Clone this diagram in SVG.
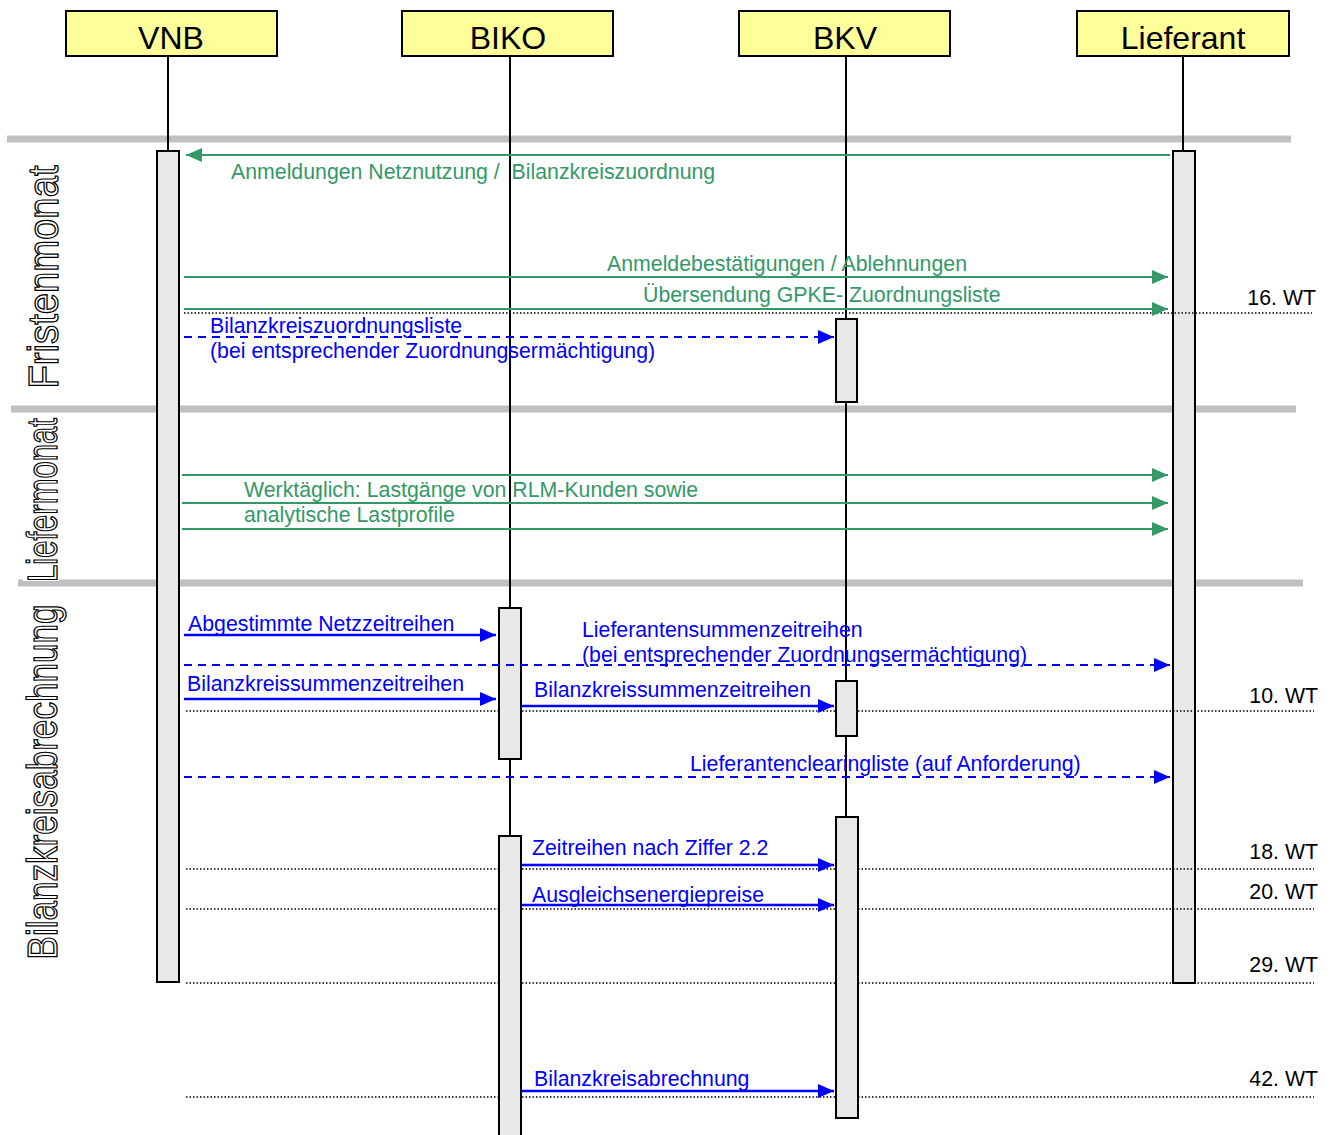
<svg xmlns="http://www.w3.org/2000/svg" width="1333" height="1135" viewBox="0 0 1333 1135">
<style>
.hdr{fill:#FFFF99;stroke:#000;stroke-width:2}
.hdrt{font-family:"Liberation Sans",Arial,sans-serif;font-size:32px;text-anchor:middle;fill:#000}
.life{stroke:#000;stroke-width:2;fill:none}
.act{fill:#E8E8E8;stroke:#000;stroke-width:2}
.sep{stroke:#C0C0C0;stroke-width:7}
.g{stroke:#339966;stroke-width:2;fill:none}
.b{stroke:#0000FF;stroke-width:2.5;fill:none}
.bd{stroke:#0000FF;stroke-width:2;fill:none;stroke-dasharray:8 6}
.dot{stroke:#000;stroke-width:1.4;stroke-dasharray:1.5 2;fill:none}
.lbl{font-family:"Liberation Sans",Arial,sans-serif;font-size:21.3px;white-space:pre}
.gt{fill:#339966}
.bt{fill:#0000FF}
.wt{font-family:"Liberation Sans",Arial,sans-serif;font-size:21.3px;fill:#000;text-anchor:end}
.vt{font-family:"Liberation Sans",Arial,sans-serif;font-size:42px;fill:#fff;stroke:#000;stroke-width:1.3;text-anchor:middle}
</style>
<defs>
<marker id="ag" markerUnits="userSpaceOnUse" markerWidth="16" markerHeight="14" refX="16" refY="7" orient="auto"><path d="M0,0 L16,7 L0,14 z" fill="#339966"/></marker>
<marker id="ab" markerUnits="userSpaceOnUse" markerWidth="16" markerHeight="14" refX="16" refY="7" orient="auto"><path d="M0,0 L16,7 L0,14 z" fill="#0000FF"/></marker>
</defs>
<rect width="1333" height="1135" fill="#fff"/>

<g id="separators">
<line class="sep" x1="7" y1="139" x2="1291" y2="139"/>
<line class="sep" x1="11" y1="409" x2="1296" y2="409"/>
<line class="sep" x1="18" y1="583" x2="1303" y2="583"/>
</g>

<g id="phases">
<text class="vt" transform="translate(58,277) rotate(-90)" textLength="223" lengthAdjust="spacingAndGlyphs">Fristenmonat</text>
<rect x="23" y="413" width="36" height="168" fill="#fff"/>
<text class="vt" transform="translate(57,500) rotate(-90)" textLength="164" lengthAdjust="spacingAndGlyphs">Liefermonat</text>
<text class="vt" transform="translate(57,782) rotate(-90)" textLength="355" lengthAdjust="spacingAndGlyphs">Bilanzkreisabrechnung</text>
</g>

<g id="lifelines">
<line class="life" x1="168" y1="56" x2="168" y2="151"/>
<line class="life" x1="510" y1="56" x2="510" y2="1135"/>
<line class="life" x1="846" y1="56" x2="846" y2="1118"/>
<line class="life" x1="1183" y1="56" x2="1183" y2="151"/>
</g>

<g id="node-VNB">
<rect class="hdr" x="66" y="11" width="211" height="45"/>
<text class="hdrt" x="171" y="49">VNB</text>
<rect class="act" x="157" y="151" width="22" height="831"/>
</g>
<g id="node-Lieferant">
<rect class="hdr" x="1077" y="11" width="212" height="45"/>
<text class="hdrt" x="1183" y="49">Lieferant</text>
<rect class="act" x="1173" y="151" width="22" height="832"/>
</g>

<g id="timelines">
<line class="dot" x1="184" y1="313" x2="1312" y2="313"/>
<line class="dot" x1="186" y1="711" x2="1314" y2="711"/>
<line class="dot" x1="186" y1="869" x2="1314" y2="869"/>
<line class="dot" x1="186" y1="909" x2="1314" y2="909"/>
<line class="dot" x1="186" y1="983" x2="1314" y2="983"/>
<line class="dot" x1="186" y1="1097" x2="1314" y2="1097"/>
<text class="wt" x="1316" y="305">16. WT</text>
<text class="wt" x="1318" y="703">10. WT</text>
<text class="wt" x="1318" y="859">18. WT</text>
<text class="wt" x="1318" y="899">20. WT</text>
<text class="wt" x="1318" y="972">29. WT</text>
<text class="wt" x="1318" y="1086">42. WT</text>
</g>

<g id="node-BIKO">
<rect class="hdr" x="402" y="11" width="211" height="45"/>
<text class="hdrt" x="508" y="49">BIKO</text>
<rect class="act" x="499" y="608" width="22" height="151"/>
<rect class="act" x="499" y="836" width="22" height="305"/>
</g>
<g id="node-BKV">
<rect class="hdr" x="739" y="11" width="211" height="45"/>
<text class="hdrt" x="845" y="49">BKV</text>
<rect class="act" x="836" y="319" width="21" height="83"/>
<rect class="act" x="836" y="681" width="21" height="55"/>
<rect class="act" x="836" y="817" width="22" height="301"/>
</g>

<g id="connectors">
<line class="g" x1="1170" y1="155" x2="186" y2="155" marker-end="url(#ag)"/>
<line class="g" x1="184" y1="277" x2="1168" y2="277" marker-end="url(#ag)"/>
<line class="g" x1="184" y1="309" x2="1168" y2="309" marker-end="url(#ag)"/>
<line class="bd" x1="184" y1="337" x2="834" y2="337" marker-end="url(#ab)"/>
<line class="g" x1="182" y1="475" x2="1168" y2="475" marker-end="url(#ag)"/>
<line class="g" x1="182" y1="503" x2="1168" y2="503" marker-end="url(#ag)"/>
<line class="g" x1="182" y1="529" x2="1168" y2="529" marker-end="url(#ag)"/>
<line class="b" x1="184" y1="635" x2="496" y2="635" marker-end="url(#ab)"/>
<line class="bd" x1="184" y1="665" x2="1170" y2="665" marker-end="url(#ab)"/>
<line class="b" x1="184" y1="699" x2="496" y2="699" marker-end="url(#ab)"/>
<line class="b" x1="521" y1="706" x2="834" y2="706" marker-end="url(#ab)"/>
<line class="bd" x1="184" y1="777" x2="1170" y2="777" marker-end="url(#ab)"/>
<line class="b" x1="521" y1="865" x2="834" y2="865" marker-end="url(#ab)"/>
<line class="b" x1="521" y1="905" x2="834" y2="905" marker-end="url(#ab)"/>
<line class="b" x1="521" y1="1091" x2="834" y2="1091" marker-end="url(#ab)"/>
</g>

<g id="labels">
<text class="lbl gt" x="231" y="179">Anmeldungen Netznutzung /  Bilanzkreiszuordnung</text>
<text class="lbl gt" x="607" y="271">Anmeldebestätigungen / Ablehnungen</text>
<text class="lbl gt" x="643" y="302">Übersendung GPKE- Zuordnungsliste</text>
<text class="lbl bt" x="210" y="333">Bilanzkreiszuordnungsliste</text>
<text class="lbl bt" x="210" y="358">(bei entsprechender Zuordnungsermächtigung)</text>
<text class="lbl gt" x="244" y="497">Werktäglich: Lastgänge von RLM-Kunden sowie</text>
<text class="lbl gt" x="244" y="522">analytische Lastprofile</text>
<text class="lbl bt" x="188" y="631">Abgestimmte Netzzeitreihen</text>
<text class="lbl bt" x="582" y="637">Lieferantensummenzeitreihen</text>
<text class="lbl bt" x="582" y="662">(bei entsprechender Zuordnungsermächtigung)</text>
<text class="lbl bt" x="187" y="691">Bilanzkreissummenzeitreihen</text>
<text class="lbl bt" x="534" y="697">Bilanzkreissummenzeitreihen</text>
<text class="lbl bt" x="690" y="771">Lieferantenclearingliste (auf Anforderung)</text>
<text class="lbl bt" x="532" y="855">Zeitreihen nach Ziffer 2.2</text>
<text class="lbl bt" x="532" y="902">Ausgleichsenergiepreise</text>
<text class="lbl bt" x="534" y="1086">Bilanzkreisabrechnung</text>
</g>
</svg>
